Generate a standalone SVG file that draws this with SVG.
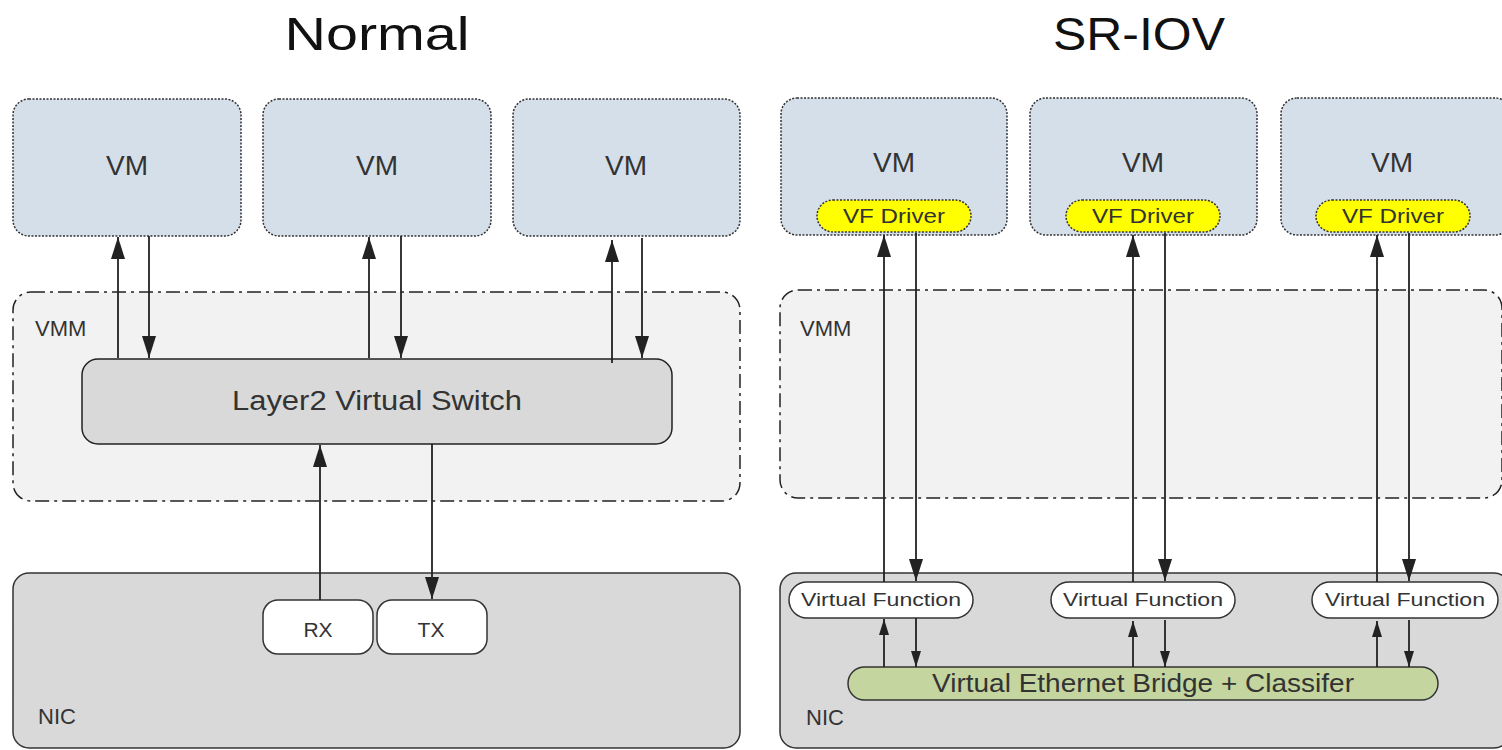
<svg xmlns="http://www.w3.org/2000/svg" width="1502" height="750" viewBox="0 0 1502 750">
<defs>
<style>
text{font-family:"Liberation Sans",Arial,sans-serif;fill:#333}
.vm{fill:#d5dfea;stroke:#333;stroke-width:1.5;stroke-dasharray:2,1.5}
.vmm{fill:#f2f2f2;stroke:#222;stroke-width:1.5;stroke-dasharray:14,5,3,5}
.nic{fill:#d9d9d9;stroke:#333;stroke-width:1.5}
.sw{fill:#d9d9d9;stroke:#222;stroke-width:1.5}
.wb{fill:#fff;stroke:#333;stroke-width:1.5}
.vf{fill:#ffff00;stroke:#333;stroke-width:1.5;stroke-dasharray:2,1.5}
.br{fill:#c4d59f;stroke:#333;stroke-width:1.5}
.a{stroke:#222;stroke-width:1.8;fill:none}
.big{marker-end:url(#ah)}
.sm{marker-end:url(#as)}
.title{font-size:46px;fill:#111}
.lab{font-size:28px;text-anchor:middle}
.cor{font-size:22px}
</style>
<marker id="ah" viewBox="0 0 22 14" markerWidth="22" markerHeight="14" refX="22" refY="7" orient="auto" markerUnits="userSpaceOnUse">
<path d="M0,0 L22,7 L0,14 Z" fill="#222"/>
</marker>
<marker id="as" viewBox="0 0 16 10" markerWidth="16" markerHeight="10" refX="16" refY="5" orient="auto" markerUnits="userSpaceOnUse">
<path d="M0,0 L16,5 L0,10 Z" fill="#222"/>
</marker>
</defs>
<rect width="1502" height="750" fill="#fff"/>

<g id="titles">
<text class="title" x="377" y="50" text-anchor="middle" textLength="185" lengthAdjust="spacingAndGlyphs">Normal</text>
<text class="title" x="1139" y="50" text-anchor="middle" textLength="172" lengthAdjust="spacingAndGlyphs">SR-IOV</text>
</g>

<!-- Normal side -->
<g id="n-vmm">
<rect class="vmm" x="13" y="292" width="727" height="209" rx="18"/>
<text class="cor" x="35" y="336">VMM</text>
</g>
<g id="n-nic">
<rect class="nic" x="13" y="573" width="727" height="175" rx="16"/>
<text class="cor" x="38" y="724">NIC</text>
</g>
<g id="n-vm1">
<rect class="vm" x="13" y="99" width="228" height="137" rx="16"/>
<text class="lab" x="127" y="175">VM</text>
</g>
<g id="n-vm2">
<rect class="vm" x="263" y="99" width="228" height="137" rx="16"/>
<text class="lab" x="377" y="175">VM</text>
</g>
<g id="n-vm3">
<rect class="vm" x="513" y="99" width="227" height="137" rx="16"/>
<text class="lab" x="626" y="175">VM</text>
</g>
<g id="n-switch">
<rect class="sw" x="82" y="359" width="590" height="85" rx="16"/>
<text x="377" y="410" text-anchor="middle" font-size="27" textLength="290" lengthAdjust="spacingAndGlyphs">Layer2 Virtual Switch</text>
</g>
<g id="n-rx">
<rect class="wb" x="263" y="600" width="110" height="54" rx="15"/>
<text x="318" y="637" text-anchor="middle" font-size="21">RX</text>
</g>
<g id="n-tx">
<rect class="wb" x="377" y="600" width="110" height="54" rx="15"/>
<text x="431" y="637" text-anchor="middle" font-size="21">TX</text>
</g>

<!-- SR-IOV side -->
<g id="s-vmm">
<rect class="vmm" x="780" y="290" width="722" height="208" rx="18"/>
<text class="cor" x="800" y="336">VMM</text>
</g>
<g id="s-nic">
<rect class="nic" x="780" y="573" width="730" height="175" rx="16"/>
<text class="cor" x="806" y="725">NIC</text>
</g>
<g id="s-vm1">
<rect class="vm" x="781" y="98" width="226" height="137" rx="16"/>
<text class="lab" x="894" y="172">VM</text>
</g>
<g id="s-vf1">
<rect class="vf" x="817" y="200" width="154" height="32" rx="16"/>
<text x="894" y="223" text-anchor="middle" font-size="21" textLength="102" lengthAdjust="spacingAndGlyphs">VF Driver</text>
</g>
<g id="s-vm2">
<rect class="vm" x="1030" y="98" width="227" height="137" rx="16"/>
<text class="lab" x="1143" y="172">VM</text>
</g>
<g id="s-vf2">
<rect class="vf" x="1066" y="200" width="154" height="32" rx="16"/>
<text x="1143" y="223" text-anchor="middle" font-size="21" textLength="102" lengthAdjust="spacingAndGlyphs">VF Driver</text>
</g>
<g id="s-vm3">
<rect class="vm" x="1281" y="98" width="230" height="137" rx="16"/>
<text class="lab" x="1392" y="172">VM</text>
</g>
<g id="s-vf3">
<rect class="vf" x="1316" y="200" width="154" height="32" rx="16"/>
<text x="1393" y="223" text-anchor="middle" font-size="21" textLength="102" lengthAdjust="spacingAndGlyphs">VF Driver</text>
</g>
<g id="s-func1">
<rect class="wb" x="789" y="582" width="184" height="36" rx="18"/>
<text x="881" y="606" text-anchor="middle" font-size="18" textLength="160" lengthAdjust="spacingAndGlyphs">Virtual Function</text>
</g>
<g id="s-func2">
<rect class="wb" x="1051" y="582" width="184" height="36" rx="18"/>
<text x="1143" y="606" text-anchor="middle" font-size="18" textLength="160" lengthAdjust="spacingAndGlyphs">Virtual Function</text>
</g>
<g id="s-func3">
<rect class="wb" x="1312" y="582" width="186" height="36" rx="18"/>
<text x="1405" y="606" text-anchor="middle" font-size="18" textLength="160" lengthAdjust="spacingAndGlyphs">Virtual Function</text>
</g>
<g id="s-bridge">
<rect class="br" x="848" y="667" width="590" height="33" rx="16.5"/>
<text x="1143" y="692" text-anchor="middle" font-size="25" textLength="422" lengthAdjust="spacingAndGlyphs">Virtual Ethernet Bridge + Classifer</text>
</g>

<g id="connectors">
<line class="a big" x1="118" y1="358" x2="118" y2="237"/>
<line class="a big" x1="149" y1="236" x2="149" y2="358"/>
<line class="a big" x1="369" y1="358" x2="369" y2="237"/>
<line class="a big" x1="401" y1="236" x2="401" y2="358"/>
<line class="a big" x1="612" y1="363" x2="612" y2="240"/>
<line class="a big" x1="642" y1="238" x2="642" y2="358"/>
<line class="a big" x1="320" y1="600" x2="320" y2="445"/>
<line class="a big" x1="432" y1="444" x2="432" y2="599"/>
<line class="a big" x1="884" y1="582" x2="884" y2="235"/>
<line class="a big" x1="916" y1="233" x2="916" y2="581"/>
<line class="a big" x1="1133" y1="582" x2="1133" y2="235"/>
<line class="a big" x1="1165" y1="233" x2="1165" y2="581"/>
<line class="a big" x1="1377" y1="582" x2="1377" y2="235"/>
<line class="a big" x1="1409" y1="233" x2="1409" y2="581"/>
<line class="a sm" x1="884" y1="667" x2="884" y2="619"/>
<line class="a sm" x1="916" y1="618" x2="916" y2="667"/>
<line class="a sm" x1="1133" y1="667" x2="1133" y2="621"/>
<line class="a sm" x1="1165" y1="620" x2="1165" y2="667"/>
<line class="a sm" x1="1377" y1="667" x2="1377" y2="621"/>
<line class="a sm" x1="1409" y1="620" x2="1409" y2="667"/>
</g>
</svg>
